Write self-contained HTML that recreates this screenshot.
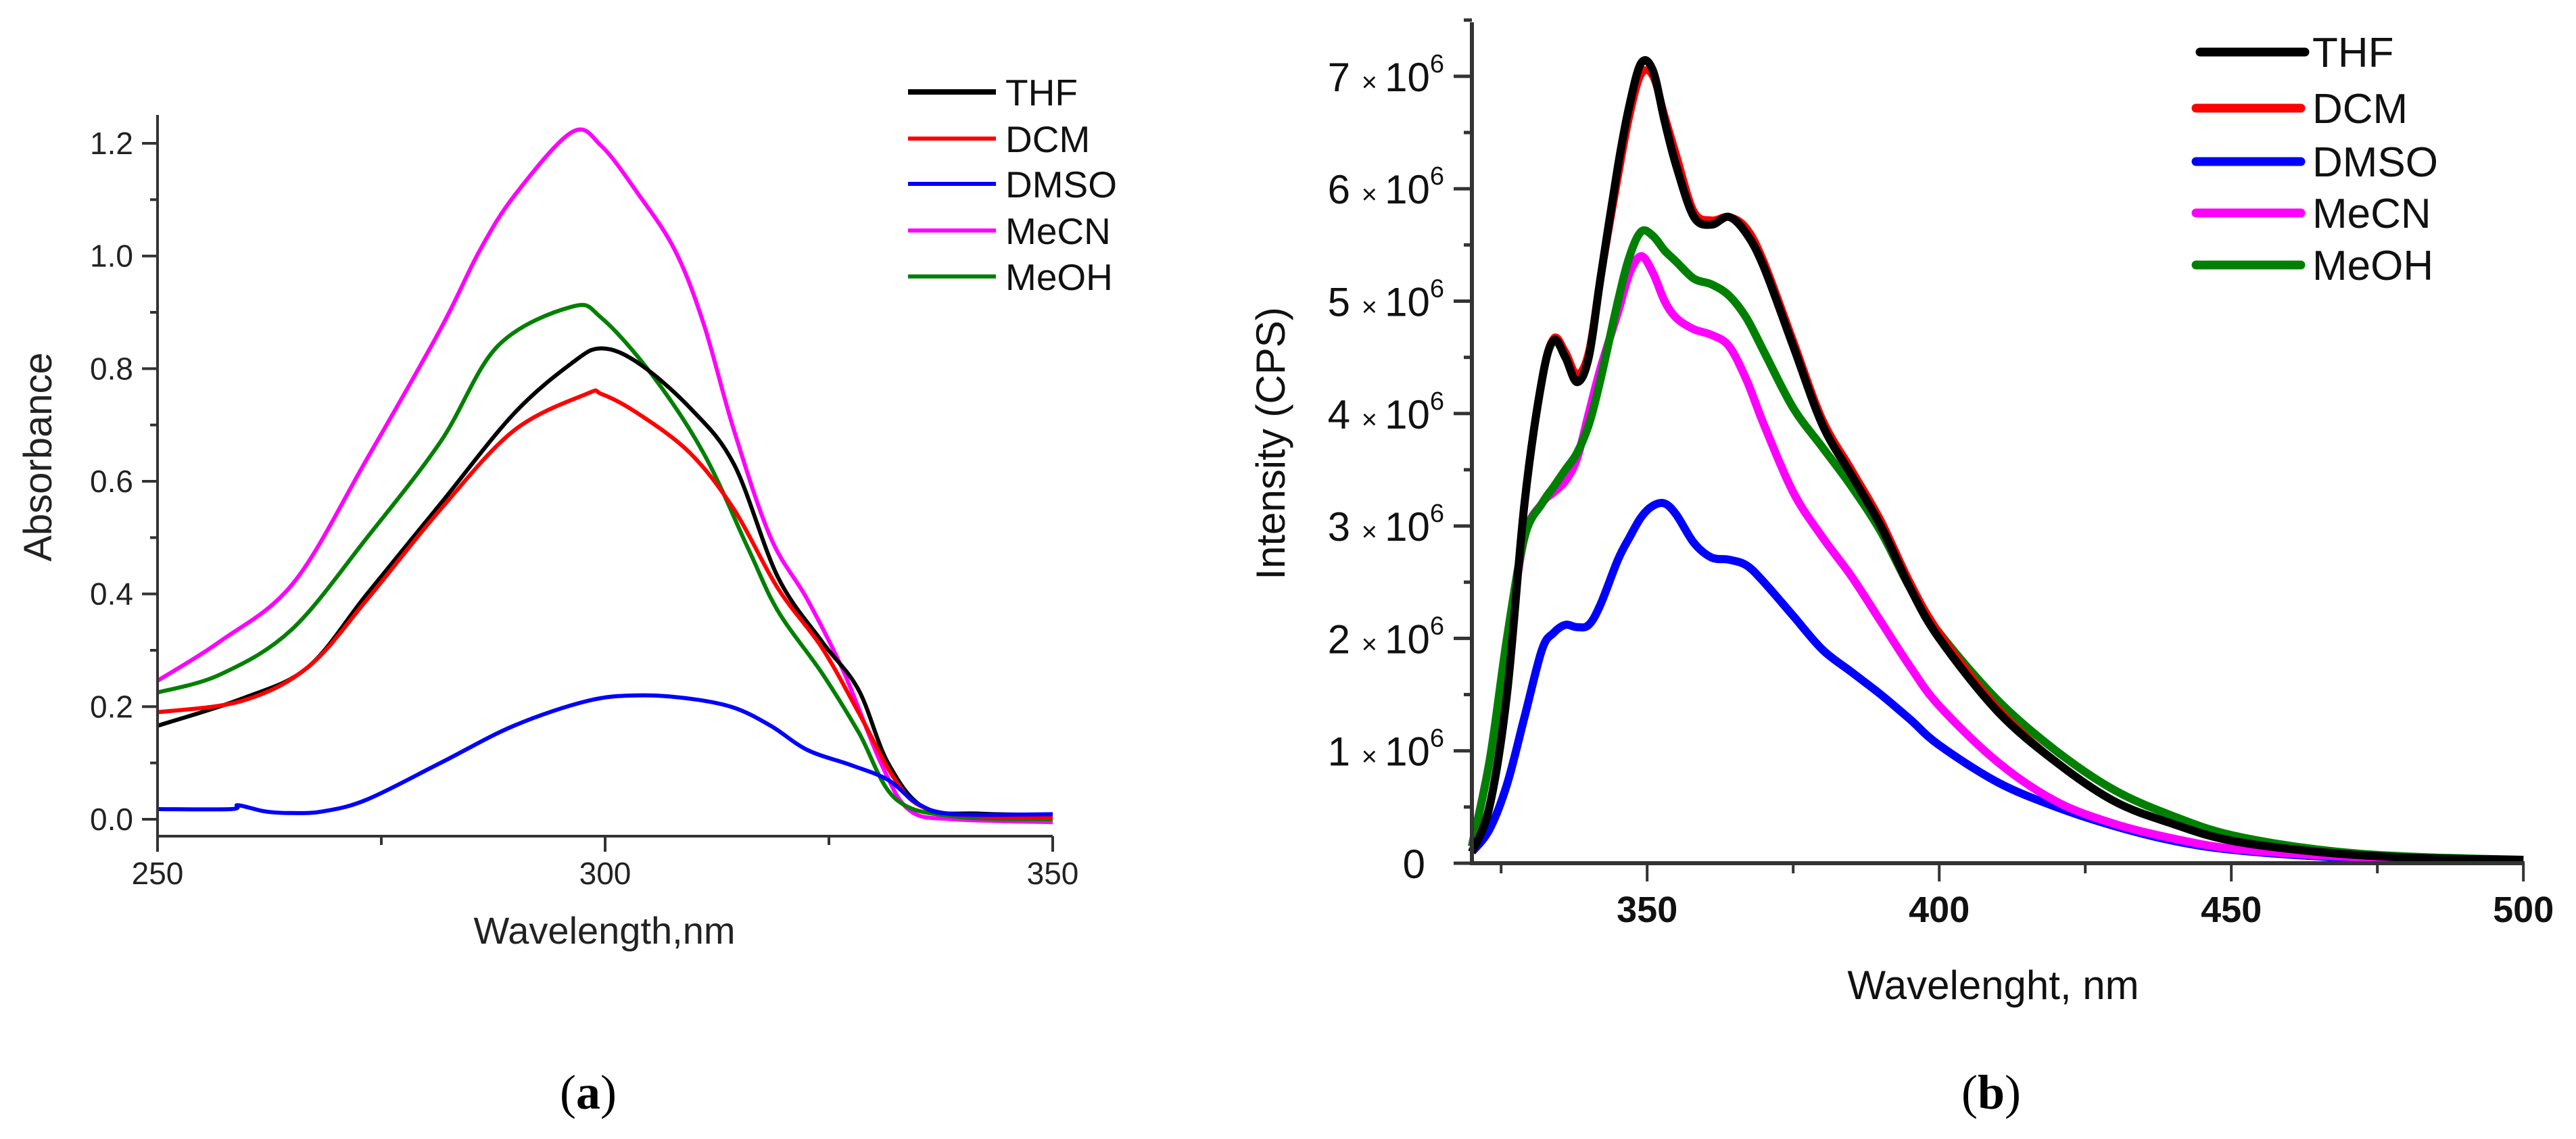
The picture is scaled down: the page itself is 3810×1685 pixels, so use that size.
<!DOCTYPE html>
<html><head><meta charset="utf-8"><style>
html,body{margin:0;padding:0;background:#fff;}
svg{display:block;}
</style></head><body>
<svg id="fig" width="3810" height="1685" viewBox="0 0 3810 1685" xmlns="http://www.w3.org/2000/svg" font-family="Liberation Sans, Arial, sans-serif">
<rect width="3810" height="1685" fill="#fff"/>
<g id="pa"></g>
<g id="pb"></g>
<text x="870" y="1640" style="font-family:'Liberation Serif',serif" font-size="72" text-anchor="middle">(<tspan font-weight="bold">a</tspan>)</text>
<text x="2945" y="1640" style="font-family:'Liberation Serif',serif" font-size="72" text-anchor="middle">(<tspan font-weight="bold">b</tspan>)</text>
</svg>
<script>
// ---------- Panel (a) data: absorbance ----------
const seriesNames = ["THF","DCM","DMSO","MeCN","MeOH"];
const seriesColors = ["#000000","#ff0000","#0000ff","#ff00ff","#008000"];
const aTHFx = [250,259.4,266.8,273.4,281.6,289.8,296.3,299.6,303.7,309.5,314.4,319.3,324.2,328.3,331.6,335.7,342,350];
const aTHFy = [0.166,0.214,0.27,0.40,0.56,0.72,0.81,0.836,0.81,0.73,0.63,0.43,0.316,0.23,0.10,0.02,0.01,0.008];
const aDCMx = [250,259.4,266.8,273.4,281.6,289.8,297.9,299.6,303.7,309.5,314.4,319.3,324.2,328.3,332.4,335.7,342,350];
const aDCMy = [0.19,0.21,0.27,0.39,0.55,0.69,0.755,0.755,0.72,0.65,0.55,0.41,0.305,0.19,0.07,0.02,0.005,0.003];
const aDMSOx = [250,258.2,259,262,265,268.5,273.4,281.6,289.8,298,303.7,309.5,314.4,318.5,322.6,327.5,331.6,335,339,350];
const aDMSOy = [0.018,0.018,0.025,0.014,0.011,0.014,0.035,0.10,0.166,0.21,0.22,0.214,0.198,0.166,0.123,0.096,0.07,0.027,0.009,0.009];
const aMeCNx = [250,257,265.2,273.4,281.6,286,290,296.3,299.6,303.7,307.8,311,314.4,318.5,322.6,326.7,330.8,334,339,350];
const aMeCNy = [0.246,0.316,0.42,0.64,0.87,1.01,1.11,1.22,1.195,1.11,1.01,0.88,0.69,0.50,0.39,0.26,0.10,0.016,0,-0.005];
const aMeOHx = [250,257,265,273.4,281.6,288,296.3,299.6,305.2,311,316,319.3,324.2,328.3,332.4,339,350];
const aMeOHy = [0.225,0.257,0.337,0.50,0.67,0.84,0.91,0.89,0.79,0.65,0.48,0.37,0.26,0.155,0.037,0.005,0.0];
const aXTicks = [250,300,350];
const aYTicks = [0,0.2,0.4,0.6,0.8,1.0,1.2];
const aYLabels = ["0.0","0.2","0.4","0.6","0.8","1.0","1.2"];

// ---------- Panel (b) data: emission ----------
const bX = [320,323,326,329,332,334,336,338,340,342,345,347,349,351,353,355,358,361,364,367,370,375,380,385,390,395,400,410,420,430,440,450,465,480,500];
const bTHF = [0.1,0.5,1.5,3.2,4.3,4.65,4.5,4.28,4.5,5.2,6.2,6.75,7.12,7.05,6.6,6.2,5.75,5.68,5.75,5.6,5.3,4.6,3.9,3.45,3.0,2.45,2.0,1.35,0.9,0.55,0.35,0.2,0.1,0.05,0.03];
const bDCM = [0.1,0.5,1.5,3.2,4.3,4.67,4.55,4.35,4.55,5.2,6.1,6.65,7.02,7.0,6.65,6.3,5.8,5.72,5.75,5.65,5.35,4.65,3.95,3.5,3.05,2.5,2.05,1.38,0.9,0.55,0.35,0.2,0.1,0.05,0.03];
const bDMSO = [0.1,0.3,0.7,1.3,1.9,2.05,2.12,2.1,2.12,2.3,2.7,2.9,3.08,3.18,3.2,3.1,2.85,2.72,2.7,2.65,2.5,2.2,1.9,1.7,1.5,1.28,1.05,0.72,0.5,0.33,0.2,0.12,0.06,0.03,0.02];
const bMeCN = [0.15,0.9,1.9,2.9,3.2,3.3,3.4,3.6,4.0,4.4,4.9,5.25,5.4,5.25,5.0,4.85,4.75,4.7,4.6,4.3,3.9,3.3,2.9,2.55,2.15,1.75,1.4,0.9,0.55,0.35,0.22,0.13,0.07,0.04,0.02];
const bMeOH = [0.15,0.9,2.0,2.9,3.2,3.35,3.5,3.65,3.9,4.3,5.0,5.4,5.62,5.58,5.45,5.35,5.2,5.15,5.05,4.85,4.55,4.05,3.7,3.35,2.95,2.45,2.05,1.45,1.0,0.65,0.42,0.25,0.12,0.06,0.03];
const bXTicks = [350,400,450,500];
const bYTicks = [0,1,2,3,4,5,6,7];

const NS = "http://www.w3.org/2000/svg";
function mk(parent, tag, attrs){ const e=document.createElementNS(NS,tag); for(const k in attrs) e.setAttribute(k,attrs[k]); parent.appendChild(e); return e; }
function smooth(pts){
  let d="M"+pts[0][0].toFixed(1)+","+pts[0][1].toFixed(1);
  for(let i=0;i<pts.length-1;i++){
    const p0=pts[i-1]||pts[i], p1=pts[i], p2=pts[i+1], p3=pts[i+2]||p2;
    const c1=[p1[0]+(p2[0]-p0[0])/6, p1[1]+(p2[1]-p0[1])/6];
    const c2=[p2[0]-(p3[0]-p1[0])/6, p2[1]-(p3[1]-p1[1])/6];
    d+=" C"+c1[0].toFixed(1)+","+c1[1].toFixed(1)+" "+c2[0].toFixed(1)+","+c2[1].toFixed(1)+" "+p2[0].toFixed(1)+","+p2[1].toFixed(1);
  }
  return d;
}

// ---------- draw panel a ----------
(function(){
  const g=document.getElementById('pa');
  const ax=v=>233+(v-250)*(1557-233)/100;
  const ay=v=>1212-v*833.3;
  const xsA=[aTHFx,aDCMx,aDMSOx,aMeCNx,aMeOHx], ysA=[aTHFy,aDCMy,aDMSOy,aMeCNy,aMeOHy];
  const order=[3,4,0,1,2];
  order.forEach(i=>{
    const pts=xsA[i].map((x,j)=>[ax(x),ay(ysA[i][j])]);
    const p=mk(g,'path',{d:smooth(pts),fill:'none',stroke:seriesColors[i],'stroke-width':6,'stroke-linejoin':'round'});
    
    
  });
  const axes=mk(g,'path',{d:"M233,170 V1237 H1557",fill:'none',stroke:'#333','stroke-width':4});
  
  
  aYTicks.forEach((v,i)=>{
    mk(g,'line',{x1:210,x2:233,y1:ay(v),y2:ay(v),stroke:'#333','stroke-width':4});
    const t=mk(g,'text',{x:197,y:ay(v)+16,'font-size':46,'text-anchor':'end',fill:'#222'});
    t.textContent=aYLabels[i];
    
    
    if(i<aYTicks.length-1){ const m=ay(v+0.1); mk(g,'line',{x1:222,x2:233,y1:m,y2:m,stroke:'#333','stroke-width':4}); }
  });
  aXTicks.forEach((v,i)=>{
    mk(g,'line',{x1:ax(v),x2:ax(v),y1:1237,y2:1260,stroke:'#333','stroke-width':4});
    const t=mk(g,'text',{x:ax(v),y:1308,'font-size':46,'text-anchor':'middle',fill:'#222'});
    t.textContent=v;
    
    
    if(i<aXTicks.length-1){ const m=ax(v+25); mk(g,'line',{x1:m,x2:m,y1:1237,y2:1250,stroke:'#333','stroke-width':4}); }
  });
  const xt=mk(g,'text',{x:894,y:1396,'font-size':56,'text-anchor':'middle',fill:'#222'});
  xt.textContent="Wavelength,nm";
  
  
  const yt=mk(g,'text',{x:0,y:0,'font-size':58,'text-anchor':'middle',fill:'#222',transform:'translate(76,676) rotate(-90)'});
  yt.textContent="Absorbance";
  
  
  const lg=mk(g,'g',{});
  
  
  const ly=[136,205,272,341,409];
  seriesNames.forEach((n,i)=>{
    const e=mk(lg,'g',{});
    
    
    mk(e,'line',{x1:1343,x2:1473,y1:ly[i],y2:ly[i],stroke:seriesColors[i],'stroke-width':i==0?8:6});
    const t=mk(e,'text',{x:1487,y:ly[i]+20,'font-size':55,fill:'#111'});
    t.textContent=n;
  });
})();

// ---------- draw panel b ----------
(function(){
  const g=document.getElementById('pb');
  const bx=v=>2177+(v-320)*8.64;
  const by=v=>1277-v*166.3;
  const ysB=[bTHF,bDCM,bDMSO,bMeCN,bMeOH];
  const order=[2,3,4,1,0];
  order.forEach(i=>{
    const pts=bX.map((x,j)=>[bx(x),by(ysB[i][j])]);
    const p=mk(g,'path',{d:smooth(pts),fill:'none',stroke:seriesColors[i],'stroke-width':i==1?11:12,'stroke-linejoin':'round'});
    
    
  });
  const axes=mk(g,'path',{d:"M2177,33 V1277 H3734",fill:'none',stroke:'#333','stroke-width':6});
  
  
  bYTicks.forEach((v,i)=>{
    mk(g,'line',{x1:2150,x2:2177,y1:by(v),y2:by(v),stroke:'#333','stroke-width':5});
    const m=by(v+0.5); mk(g,'line',{x1:2165,x2:2177,y1:m,y2:m,stroke:'#333','stroke-width':5});
    const t=mk(g,'text',{x:v==0?2108:2136,y:by(v)+22,'font-size':60,'text-anchor':'end',fill:'#111'});
    
    
    if(v==0){ t.textContent="0"; }
    else {
      const a=mk(t,'tspan',{}); a.textContent=v+" ";
      const b=mk(t,'tspan',{'font-size':40}); b.textContent="× ";
      const c=mk(t,'tspan',{}); c.textContent="10";
      const d=mk(t,'tspan',{'font-size':38,dy:-28}); d.textContent="6";
    }
  });
  [325,375,425,475].forEach(v=>mk(g,'line',{x1:bx(v),x2:bx(v),y1:1277,y2:1292,stroke:'#333','stroke-width':4}));
  bXTicks.forEach(v=>{
    mk(g,'line',{x1:bx(v),x2:bx(v),y1:1277,y2:1304,stroke:'#333','stroke-width':4});
    const t=mk(g,'text',{x:bx(v),y:1364,'font-size':54,'font-weight':'bold','text-anchor':'middle',fill:'#111'});
    t.textContent=v;
    
    
  });
  const xt=mk(g,'text',{x:2948,y:1478,'font-size':60,'text-anchor':'middle',fill:'#111'});
  xt.textContent="Wavelenght, nm";
  
  
  const yt=mk(g,'text',{x:0,y:0,'font-size':60,'text-anchor':'middle',fill:'#111',transform:'translate(1900,656) rotate(-90)'});
  yt.textContent="Intensity (CPS)";
  
  
  const lg=mk(g,'g',{});
  
  
  const ly=[77,160,239,315,392];
  seriesNames.forEach((n,i)=>{
    const e=mk(lg,'g',{});
    
    
    mk(e,'line',{x1:i==0?3254:3248,x2:i==0?3409:3403,y1:ly[i],y2:ly[i],stroke:seriesColors[i],'stroke-width':13,'stroke-linecap':'round'});
    const t=mk(e,'text',{x:3420,y:ly[i]+22,'font-size':62,fill:'#111'});
    t.textContent=n;
  });
})();
</script>
</body></html>
